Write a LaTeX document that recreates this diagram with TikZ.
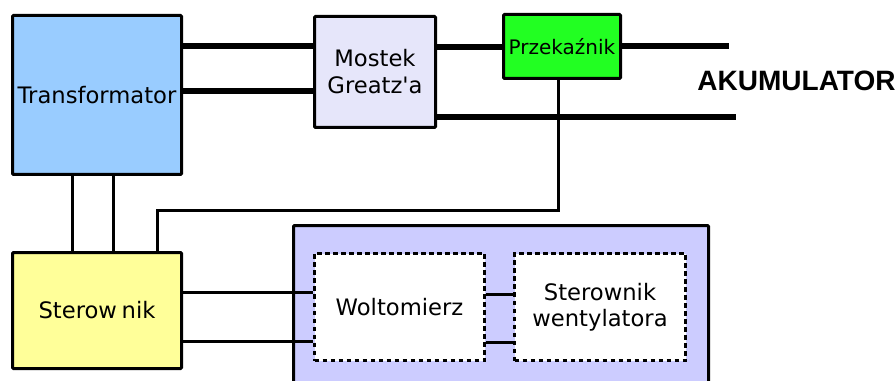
\documentclass[tikz,border=0pt]{standalone}
\usepackage{fontspec}
\setmainfont{DejaVu Sans}[Ligatures=TeXOff]
\newfontfamily\labelfont{Liberation Sans}
\definecolor{trafo}{HTML}{99CCFF}
\definecolor{mostek}{HTML}{E6E6FA}
\definecolor{relay}{HTML}{22FF22}
\definecolor{ctrl}{HTML}{FFFF99}
\definecolor{panel}{HTML}{CCCCFF}
\tikzset{
  block/.style={draw=black, line width=2.25pt, rounded corners=0.75pt, align=center,
    inner sep=0pt, font=\fontsize{17}{20.25}\selectfont},
  subblock/.style={draw=black, fill=white, line width=2.25pt, dash pattern=on 3.6pt off 2.4pt,
    align=center, inner sep=0pt, font=\fontsize{17}{19.5}\selectfont},
  thickwire/.style={line width=5.2pt},
  thinwire/.style={line width=2.25pt, line join=miter},
}
\begin{document}
\begin{tikzpicture}[x=0.75pt, y=-0.75pt]
\useasboundingbox (0,0) rectangle (896,381);
\clip (0,0) rectangle (896,381);

% panel holding the measuring part
\node[draw=black, fill=panel, line width=2.25pt, rounded corners=0.75pt, inner sep=0pt,
  minimum width=415*0.75pt, minimum height=230*0.75pt] (panel) at (501,340.5) {};

% blocks
\node[block, fill=trafo, minimum width=169*0.75pt, minimum height=159*0.75pt] (T) at (97,95) {Transformator};
\node[block, fill=mostek, minimum width=121*0.75pt, minimum height=111*0.75pt] (M) at (375,72) {Mostek\\Greatz'a};
\node[block, fill=relay, minimum width=117*0.75pt, minimum height=64*0.75pt,
  font=\fontsize{15}{17}\selectfont] (P) at (562,46.5) {Przekaźnik};
\node[block, fill=ctrl, minimum width=169*0.75pt, minimum height=116*0.75pt] (S) at (97,310.5) {Sterow\kern3.5pt nik};
\node[subblock, minimum width=170*0.75pt, minimum height=107*0.75pt] (W) at (399.5,307) {Woltomierz};
\node[subblock, minimum width=171*0.75pt, minimum height=107*0.75pt] (F) at (600,307) {Sterownik\\wentylatora};

% battery terminals
\coordinate (accplus) at (729,46);
\coordinate (accminus) at (736,117);
\node[font=\labelfont\bfseries\fontsize{21}{24}\selectfont, anchor=base, inner sep=0pt] (acc) at (796.5,91) {AKUMULATOR};

% power path
\draw[thickwire] (T.east |- 0,46) -- (M.west |- 0,46);
\draw[thickwire] (T.east |- 0,91) -- (M.west |- 0,91);
\draw[thickwire] (M.east |- 0,47) -- (P.west |- 0,47);
\draw[thickwire] (P.east |- accplus) -- (accplus);
\draw[thickwire] (M.east |- accminus) -- (accminus);

% control wiring
\draw[thinwire] (T.south -| 72,0) -- (S.north -| 72,0);
\draw[thinwire] (T.south -| 113,0) -- (S.north -| 113,0);
\draw[thinwire] (P.south -| 558,0) -- (558,211) -- (157,211) -- (S.north -| 157,0);
\draw[thinwire] (S.east |- 0,292) -- (W.west |- 0,292);
\draw[thinwire] (S.east |- 0,341) -- (W.west |- 0,341);
\draw[thinwire] (W.east |- 0,294) -- (F.west |- 0,294);
\draw[thinwire] (W.east |- 0,342) -- (F.west |- 0,342);
\end{tikzpicture}
\end{document}
